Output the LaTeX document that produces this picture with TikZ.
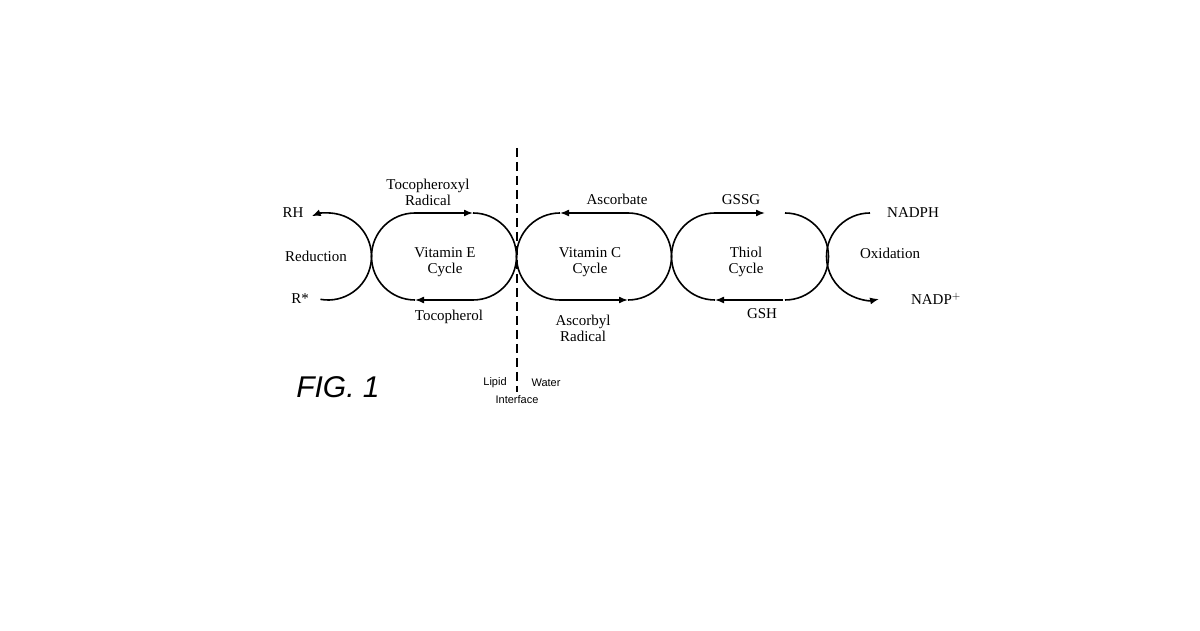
\documentclass[tikz,border=0pt]{standalone}
\usepackage{fontspec}
\setmainfont{Liberation Serif}
\setsansfont{Liberation Sans}
\usetikzlibrary{arrows.meta}
\tikzset{>={Latex[length=9pt,width=7pt]}}
\tikzset{every text node part/.style={align=center}}
\tikzset{cyc/.style={line width=1.6pt}, lbl/.style={font=\fontsize{15}{16}\selectfont, inner sep=0pt}}

\begin{document}
\begin{tikzpicture}[x=1pt, y=1pt]
\useasboundingbox (0,0) rectangle (1200,630);

% Vitamin E cycle
\draw[cyc,->] (415,417) -- (473,417);
\draw[cyc] (473,417) arc[start angle=90, end angle=-90, radius=43.5];
\draw[cyc,->] (473,330) -- (415,330);
\draw[cyc] (415,330) arc[start angle=270, end angle=90, radius=43.5];

% Vitamin C cycle
\draw[cyc,->] (628,417) -- (560,417);
\draw[cyc] (560,417) arc[start angle=90, end angle=270, radius=43.5];
\draw[cyc,->] (560,330) -- (628,330);
\draw[cyc] (628,330) arc[start angle=-90, end angle=90, radius=43.5];

% Thiol cycle
\draw[cyc,->] (715,417) -- (765,417);
\draw[cyc] (785,417) arc[start angle=90, end angle=-90, radius=43.5];
\draw[cyc,->] (783,330) -- (715,330);
\draw[cyc] (715,330) arc[start angle=270, end angle=90, radius=43.5];

% Reduction / Oxidation
\draw[cyc,->] (328,373.5) ++(-100:43.5) arc[start angle=-100, end angle=112, radius=43.5];
\draw[cyc,->] (870,417) arc[start angle=90, end angle=282, radius=43.5];

% Interface
\draw[line width=1.2pt, dash pattern=on 9pt off 5pt] (517,482) -- (517,238);

\node[lbl] (rh) at (293,417) {RH};
\node[lbl] (rstar) at (300,331) {R*};
\node[lbl] (red) at (316,374) {Reduction};
\node[lbl] (tocrad) at (428,438) {Tocopheroxyl\\Radical};
\node[lbl] (vite) at (445,368) {Vitamin E\\Cycle};
\node[lbl] (toc) at (449,313) {Tocopherol};
\node[lbl] (asc) at (617,431) {Ascorbate};
\node[lbl] (vitc) at (590,368) {Vitamin C\\Cycle};
\node[lbl] (ascrad) at (583,302) {Ascorbyl\\Radical};
\node[lbl] (gssg) at (741,430) {GSSG};
\node[lbl] (thiol) at (746,368) {Thiol\\Cycle};
\node[lbl] (gsh) at (762,316) {GSH};
\node[lbl] (nadph) at (913,417) {NADPH};
\node[lbl] (oxi) at (890,377) {Oxidation};
\node[lbl] (nadp) at (936,331) {NADP$^{+}$};
\node[font=\sffamily\fontsize{11}{12}\selectfont, inner sep=0pt] (lipid) at (495,247) {Lipid};
\node[font=\sffamily\fontsize{11}{12}\selectfont, inner sep=0pt] (water) at (546,247) {Water};
\node[font=\sffamily\fontsize{11}{12}\selectfont, inner sep=0pt] (inter) at (517,230) {Interface};
\node[font=\sffamily\itshape\fontsize{30}{32}\selectfont, inner sep=0pt] (fig) at (338,243) {FIG. 1};
\end{tikzpicture}
\end{document}
